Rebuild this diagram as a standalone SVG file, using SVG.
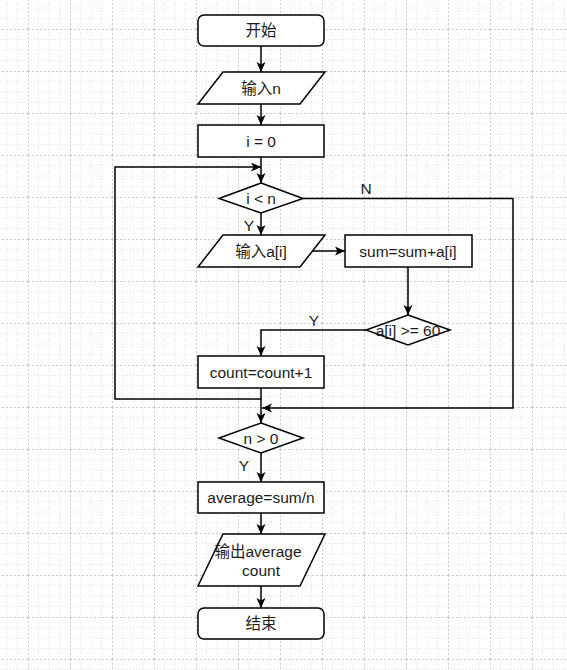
<svg xmlns="http://www.w3.org/2000/svg" width="567" height="670" viewBox="0 0 567 670">
<style>
.shape{fill:#ffffff;stroke:#000000;stroke-width:1.5}
.t{font-family:"Liberation Sans","Noto Sans CJK SC",sans-serif;font-size:15.5px;fill:#1a1a1a;text-anchor:middle;dominant-baseline:central}
.edge{fill:none;stroke:#000000;stroke-width:1.5}
.lbl{font-family:"Liberation Sans","Noto Sans CJK SC",sans-serif;font-size:15.5px;fill:#1a1a1a;text-anchor:middle;dominant-baseline:central}
.minor{stroke:#e2e2e2;stroke-width:1;stroke-dasharray:1 2}
.major{stroke:#cfcfcf;stroke-width:1;stroke-dasharray:2 2}
</style>
<defs>
<marker id="arr" markerWidth="12" markerHeight="10" refX="10" refY="4.5" orient="auto" markerUnits="userSpaceOnUse">
<path d="M0,0 L10,4.5 L0,9 L2.5,4.5 Z" fill="#000"/>
</marker>
<pattern id="grid" x="28" y="29" width="42" height="42" patternUnits="userSpaceOnUse">
<line class="minor" x1="10.5" y1="0" x2="10.5" y2="42"/>
<line class="minor" x1="21" y1="0" x2="21" y2="42"/>
<line class="minor" x1="31.5" y1="0" x2="31.5" y2="42"/>
<line class="minor" x1="0" y1="10.5" x2="42" y2="10.5"/>
<line class="minor" x1="0" y1="21" x2="42" y2="21"/>
<line class="minor" x1="0" y1="31.5" x2="42" y2="31.5"/>
<line class="major" x1="0.5" y1="0" x2="0.5" y2="42"/>
<line class="major" x1="0" y1="0.5" x2="42" y2="0.5"/>
</pattern>
</defs>
<rect x="0" y="0" width="567" height="670" fill="#ffffff"/>
<rect x="0" y="0" width="567" height="670" fill="url(#grid)"/>

<g id="connectors">
<line class="edge" x1="261" y1="46" x2="261" y2="72" marker-end="url(#arr)"/>
<line class="edge" x1="261" y1="104" x2="261" y2="125" marker-end="url(#arr)"/>
<line class="edge" x1="261" y1="157" x2="261" y2="183" marker-end="url(#arr)"/>
<path class="edge" d="M261,399 H115 V167 H261" marker-end="url(#arr)"/>
<line class="edge" x1="261" y1="213" x2="261" y2="235" marker-end="url(#arr)"/>
<text class="lbl" x="249" y="225">Y</text>
<line class="edge" x1="312.5" y1="251" x2="345" y2="251" marker-end="url(#arr)"/>
<line class="edge" x1="408" y1="267" x2="408" y2="315" marker-end="url(#arr)"/>
<path class="edge" d="M366,330 H261 V356" marker-end="url(#arr)"/>
<text class="lbl" x="314" y="320">Y</text>
<path class="edge" d="M303,198.5 H513 V408 H262" marker-end="url(#arr)"/>
<text class="lbl" x="366" y="188">N</text>
<line class="edge" x1="261" y1="388" x2="261" y2="423" marker-end="url(#arr)"/>
<line class="edge" x1="261" y1="453" x2="261" y2="482" marker-end="url(#arr)"/>
<text class="lbl" x="244" y="465">Y</text>
<line class="edge" x1="261" y1="513" x2="261" y2="534" marker-end="url(#arr)"/>
<line class="edge" x1="261" y1="586" x2="261" y2="608" marker-end="url(#arr)"/>
</g>

<g id="start">
<rect class="shape" x="198" y="15" width="126" height="31" rx="6"/>
<text class="t" x="261" y="30.5">开始</text>
</g>
<g id="input-n">
<polygon class="shape" points="223,72 325,72 300,104 198,104"/>
<text class="t" x="261" y="88">输入n</text>
</g>
<g id="init-i">
<rect class="shape" x="198" y="125" width="126" height="32"/>
<text class="t" x="261" y="141">i = 0</text>
</g>
<g id="cond-i-lt-n">
<polygon class="shape" points="261,183 303,198.5 261,213 219,198.5"/>
<text class="t" x="261" y="198">i &lt; n</text>
</g>
<g id="input-ai">
<polygon class="shape" points="223,235 325,235 300,267 198,267"/>
<text class="t" x="261" y="251">输入a[i]</text>
</g>
<g id="sum">
<rect class="shape" x="345" y="235" width="127" height="32"/>
<text class="t" x="408" y="251">sum=sum+a[i]</text>
</g>
<g id="cond-ge-60">
<polygon class="shape" points="408,315 450,330 408,345 366,330"/>
<text class="t" x="408" y="330">a[i] &gt;= 60</text>
</g>
<g id="count">
<rect class="shape" x="198" y="356" width="126" height="32"/>
<text class="t" x="261" y="372">count=count+1</text>
</g>
<g id="cond-n-gt-0">
<polygon class="shape" points="261,423 303,438 261,453 219,438"/>
<text class="t" x="261" y="438">n &gt; 0</text>
</g>
<g id="average">
<rect class="shape" x="198" y="482" width="126" height="31"/>
<text class="t" x="261" y="497.5">average=sum/n</text>
</g>
<g id="output">
<polygon class="shape" points="223,534 325,534 300,586 198,586"/>
<text class="t" x="258" y="551">输出average</text>
<text class="t" x="261" y="570">count</text>
</g>
<g id="end">
<rect class="shape" x="198" y="608" width="126" height="31" rx="6"/>
<text class="t" x="261" y="623.5">结束</text>
</g>
</svg>
